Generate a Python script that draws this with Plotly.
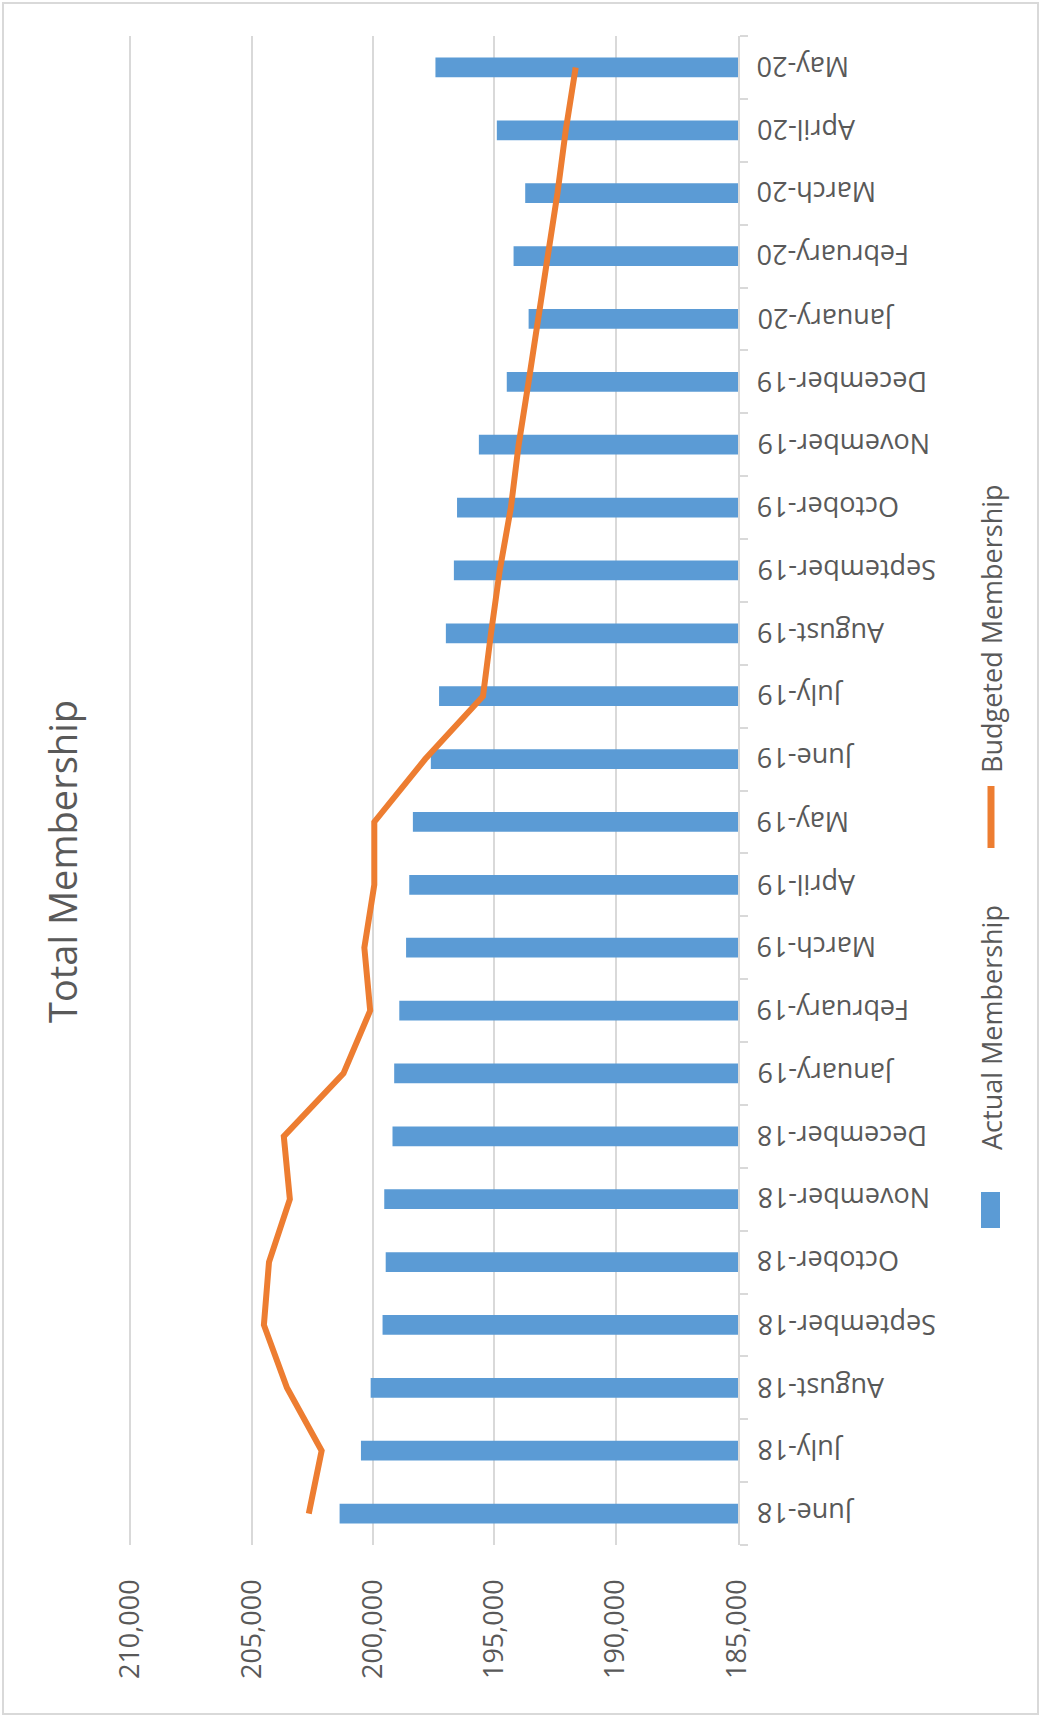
import plotly.graph_objects as go

categories = ["June-18", "July-18", "August-18", "September-18", "October-18",
              "November-18", "December-18", "January-19", "February-19", "March-19",
              "April-19", "May-19", "June-19", "July-19", "August-19", "September-19",
              "October-19", "November-19", "December-19", "January-20", "February-20",
              "March-20", "April-20", "May-20"]

actual = [201380, 200500, 200100, 199610, 199480, 199540, 199200, 199130, 198920,
          198640, 198510, 198360, 197620, 197280, 197000, 196670, 196540, 195640,
          194490, 193590, 194210, 193730, 194900, 197430]

budget = [202650, 202120, 203550, 204500, 204290, 203430, 203680, 201220, 200120,
          200360, 199950, 199950, 197850, 195470, 195140, 194780, 194320, 194000,
          193590, 193220, 192800, 192400, 192060, 191650]

value_ticks = [185000, 190000, 195000, 200000, 205000, 210000]

title_text = "Total Membership"
series_names = ["Actual Membership", "Budgeted Membership"]

W, H = 1041, 1717
L, R, T, B = 129, 738, 36, 1545  # plot area in pixels
PW, PH = R - L, B - T


def px(x):
    return (x - L) / PW


def py(y):
    return (B - y) / PH


FONT = "Open Sans, Noto Sans, sans-serif"
GREY = "#595959"
LINEC = "#D9D9D9"

fig = go.Figure()
fig.add_trace(go.Bar(
    x=actual, y=categories, orientation="h", name=series_names[0],
    marker=dict(color="#5B9BD5", line=dict(width=0)),
))
fig.add_trace(go.Scatter(
    x=budget, y=categories, mode="lines", name=series_names[1],
    line=dict(color="#ED7D31", width=6),
))

annotations = []
for c in categories:
    annotations.append(dict(
        x=px(755), xref="paper", y=c, yref="y", text=c, showarrow=False,
        textangle=180, xanchor="left", yanchor="middle",
        font=dict(family=FONT, size=27, color=GREY),
    ))

annotations.append(dict(
    x=px(62), xref="paper", y=py(862), yref="paper", text=title_text,
    showarrow=False, textangle=-90, xanchor="center", yanchor="middle",
    font=dict(family=FONT, size=38, color=GREY),
))
annotations.append(dict(
    x=px(991), xref="paper", y=py(629), yref="paper", text=series_names[1],
    showarrow=False, textangle=-90, xanchor="center", yanchor="middle",
    font=dict(family=FONT, size=27, color=GREY),
))
annotations.append(dict(
    x=px(991), xref="paper", y=py(1028), yref="paper", text=series_names[0],
    showarrow=False, textangle=-90, xanchor="center", yanchor="middle",
    font=dict(family=FONT, size=27, color=GREY),
))

shapes = [
    # outer chart border
    dict(type="rect", xref="paper", yref="paper",
         x0=px(3), x1=px(1038), y0=py(1714), y1=py(3),
         line=dict(color=LINEC, width=2), fillcolor="rgba(0,0,0,0)", layer="below"),
    # legend symbols
    dict(type="rect", xref="paper", yref="paper",
         x0=px(981), x1=px(1000), y0=py(1228), y1=py(1192),
         line=dict(width=0), fillcolor="#5B9BD5"),
    dict(type="line", xref="paper", yref="paper",
         x0=px(991), x1=px(991), y0=py(848), y1=py(786),
         line=dict(color="#ED7D31", width=7)),
]

fig.update_layout(
    width=W, height=H,
    margin=dict(l=L, r=W - R, t=T, b=H - B, pad=0),
    paper_bgcolor="white", plot_bgcolor="white",
    showlegend=False,
    bargap=0.687,
    annotations=annotations,
    shapes=shapes,
    font=dict(family=FONT, color=GREY),
    xaxis=dict(
        range=[210060, 184960], autorange=False,
        tickvals=value_ticks, tickformat=",",
        tickangle=-90, ticks="", ticklabelstandoff=28,
        tickfont=dict(family=FONT, size=27, color=GREY),
        showgrid=True, gridcolor=LINEC, gridwidth=2,
        showline=False, zeroline=False, fixedrange=True,
    ),
    yaxis=dict(
        type="category", categoryorder="array", categoryarray=categories,
        range=[-0.5, len(categories) - 0.5], autorange=False,
        side="right", showticklabels=False,
        showline=True, linecolor=LINEC, linewidth=2,
        ticks="outside", ticklen=8, tickcolor=LINEC, tickwidth=2,
        tickson="boundaries", showgrid=False, zeroline=False,
    ),
)

fig.write_html("out.html", config={"displayModeBar": False},
               post_script="document.body.style.margin='0';")
